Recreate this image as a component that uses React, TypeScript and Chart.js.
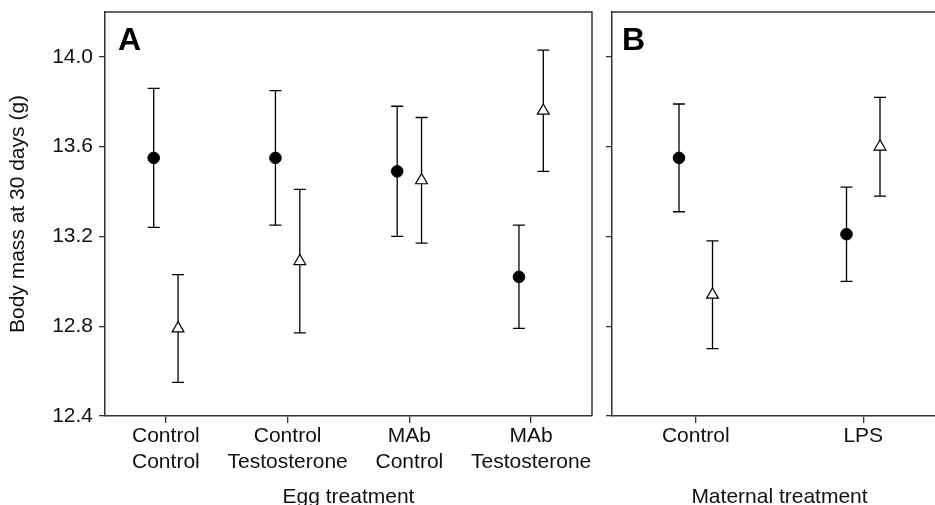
import React, { useEffect, useRef } from 'react';
import { Chart, registerables } from 'chart.js';

Chart.register(...registerables);

// ---------- data ----------
const eggTreatments: string[][] = [
  ['Control', 'Control'],
  ['Control', 'Testosterone'],
  ['MAb', 'Control'],
  ['MAb', 'Testosterone'],
];
const maternalTreatments: string[] = ['Control', 'LPS'];
const yTickValues: number[] = [12.4, 12.8, 13.2, 13.6, 14.0];

// Panel A (egg treatment)
const circleMeanA = [13.55, 13.55, 13.49, 13.02];
const circleLowA = [13.24, 13.25, 13.2, 12.79];
const circleHighA = [13.86, 13.85, 13.78, 13.25];
const triangleMeanA = [12.79, 13.09, 13.45, 13.76];
const triangleLowA = [12.55, 12.77, 13.17, 13.49];
const triangleHighA = [13.03, 13.41, 13.73, 14.03];

// Panel B (maternal treatment)
const circleMeanB = [13.55, 13.21];
const circleLowB = [13.31, 13.0];
const circleHighB = [13.79, 13.42];
const triangleMeanB = [12.94, 13.6];
const triangleLowB = [12.7, 13.38];
const triangleHighB = [13.18, 13.82];

// ---------- style ----------
const FONT = "'Liberation Sans', Arial, Helvetica, sans-serif";
const TEXT = '#111';
const AXIS = '#333';
const DODGE = 0.1;
const CANVAS_H = 512;
const AREA_TOP = 12;
const AREA_BOTTOM = 416;

const errorBarPlugin = {
  id: 'errorBars',
  beforeDatasetsDraw(chart: any) {
    const { ctx } = chart;
    const yScale = chart.scales.y;
    ctx.save();
    ctx.strokeStyle = '#000';
    ctx.lineWidth = 1.3;
    chart.data.datasets.forEach((ds: any, i: number) => {
      const meta = chart.getDatasetMeta(i);
      meta.data.forEach((el: any, j: number) => {
        const raw = ds.data[j];
        const x = el.x;
        const yLo = yScale.getPixelForValue(raw.lo);
        const yHi = yScale.getPixelForValue(raw.hi);
        const cap = 6;
        ctx.beginPath();
        ctx.moveTo(x, yLo);
        ctx.lineTo(x, yHi);
        ctx.moveTo(x - cap, yLo);
        ctx.lineTo(x + cap, yLo);
        ctx.moveTo(x - cap, yHi);
        ctx.lineTo(x + cap, yHi);
        ctx.stroke();
      });
    });
    ctx.restore();
  },
};

const framePlugin = {
  id: 'frame',
  afterDraw(chart: any, _args: any, opts: any) {
    const { ctx } = chart;
    const { left, right, top, bottom } = chart.chartArea;
    ctx.save();
    ctx.strokeStyle = AXIS;
    ctx.lineWidth = 1.5;
    ctx.beginPath();
    ctx.moveTo(left, top);
    ctx.lineTo(right, top);
    ctx.lineTo(right, bottom);
    ctx.stroke();
    ctx.font = `bold 32px ${FONT}`;
    ctx.fillStyle = '#000';
    ctx.textBaseline = 'alphabetic';
    ctx.textAlign = 'left';
    ctx.fillText(opts.label, left + opts.dx, top + 38);
    ctx.restore();
  },
};

function buildDatasets(
  cMean: number[], cLow: number[], cHigh: number[],
  tMean: number[], tLow: number[], tHigh: number[]
) {
  return [
    {
      label: 'circle',
      data: cMean.map((y, i) => ({ x: i + 1 - DODGE, y, lo: cLow[i], hi: cHigh[i] })),
      pointStyle: 'circle',
      pointRadius: 5.8,
      backgroundColor: '#000',
      borderColor: '#000',
      borderWidth: 1,
      showLine: false,
    },
    {
      label: 'triangle',
      data: tMean.map((y, i) => ({ x: i + 1 + DODGE, y, lo: tLow[i], hi: tHigh[i] })),
      pointStyle: 'triangle',
      pointRadius: 6.8,
      backgroundColor: '#fff',
      borderColor: '#000',
      borderWidth: 1.2,
      showLine: false,
    },
  ];
}

function buildConfig(opts: {
  labels: (string | string[])[];
  datasets: any[];
  yAxisWidth: number;
  showYLabels: boolean;
  paddingRight: number;
  xTitle: string;
  panel: string;
  panelDx: number;
}): any {
  const font = { family: FONT, size: 21 };
  return {
    type: 'scatter',
    data: { datasets: opts.datasets },
    plugins: [errorBarPlugin, framePlugin],
    options: {
      animation: false,
      responsive: false,
      devicePixelRatio: 1,
      layout: { padding: { top: AREA_TOP, right: opts.paddingRight, left: 0, bottom: 0 } },
      plugins: {
        legend: { display: false },
        tooltip: { enabled: false },
        frame: { label: opts.panel, dx: opts.panelDx },
      },
      scales: {
        x: {
          type: 'linear',
          min: 0.5,
          max: opts.labels.length + 0.5,
          afterBuildTicks: (s: any) => {
            s.ticks = opts.labels.map((_, i) => ({ value: i + 1 }));
          },
          afterFit: (s: any) => {
            s.height = CANVAS_H - AREA_BOTTOM;
            s.paddingLeft = 0;
            s.paddingRight = 0;
            s.paddingTop = 0;
            s.paddingBottom = 0;
          },
          ticks: {
            callback: (_v: any, i: number) => opts.labels[i],
            font: { ...font, lineHeight: 1.25 },
            color: TEXT,
            padding: 0,
            maxRotation: 0,
            autoSkip: false,
          },
          grid: { drawOnChartArea: false, tickLength: 7, color: AXIS, lineWidth: 1.3 },
          border: { color: AXIS, width: 1.5 },
          title: {
            display: true,
            text: opts.xTitle,
            font,
            color: TEXT,
            padding: { top: 0, bottom: 2 },
          },
        },
        y: {
          type: 'linear',
          min: 12.4,
          max: 14.2,
          afterBuildTicks: (s: any) => {
            s.ticks = yTickValues.map((v) => ({ value: v }));
          },
          afterFit: (s: any) => {
            s.width = opts.yAxisWidth;
            s.paddingTop = 0;
            s.paddingBottom = 0;
            s.paddingLeft = 0;
            s.paddingRight = 0;
          },
          ticks: {
            callback: (v: any) => (opts.showYLabels ? Number(v).toFixed(1) : ''),
            font,
            color: TEXT,
            padding: 6,
          },
          grid: { drawOnChartArea: false, tickLength: 6, color: AXIS, lineWidth: 1.3 },
          border: { color: AXIS, width: 1.5 },
          title: {
            display: opts.showYLabels,
            text: 'Body mass at 30 days (g)',
            font,
            color: TEXT,
            padding: { top: 6, bottom: 0 },
          },
        },
      },
    },
  };
}

export default function App() {
  const refA = useRef<HTMLCanvasElement | null>(null);
  const refB = useRef<HTMLCanvasElement | null>(null);

  useEffect(() => {
    document.body.style.margin = '0';
    const chartA = new Chart(
      refA.current as HTMLCanvasElement,
      buildConfig({
        labels: eggTreatments,
        datasets: buildDatasets(circleMeanA, circleLowA, circleHighA, triangleMeanA, triangleLowA, triangleHighA),
        yAxisWidth: 105,
        showYLabels: true,
        paddingRight: 7,
        xTitle: 'Egg treatment',
        panel: 'A',
        panelDx: 13,
      })
    );
    const chartB = new Chart(
      refB.current as HTMLCanvasElement,
      buildConfig({
        labels: maternalTreatments,
        datasets: buildDatasets(circleMeanB, circleLowB, circleHighB, triangleMeanB, triangleLowB, triangleHighB),
        yAxisWidth: 12,
        showYLabels: false,
        paddingRight: 13,
        xTitle: 'Maternal treatment',
        panel: 'B',
        panelDx: 10,
      })
    );
    return () => {
      chartA.destroy();
      chartB.destroy();
    };
  }, []);

  return (
    <div
      style={{
        position: 'fixed',
        left: 0,
        top: 0,
        width: 935,
        height: 505,
        overflow: 'hidden',
        background: '#fff',
      }}
    >
      <canvas
        ref={refA}
        width={600}
        height={CANVAS_H}
        style={{ position: 'absolute', left: 0, top: 0, width: 600, height: CANVAS_H }}
      />
      <canvas
        ref={refB}
        width={360}
        height={CANVAS_H}
        style={{ position: 'absolute', left: 600, top: 0, width: 360, height: CANVAS_H }}
      />
    </div>
  );
}
